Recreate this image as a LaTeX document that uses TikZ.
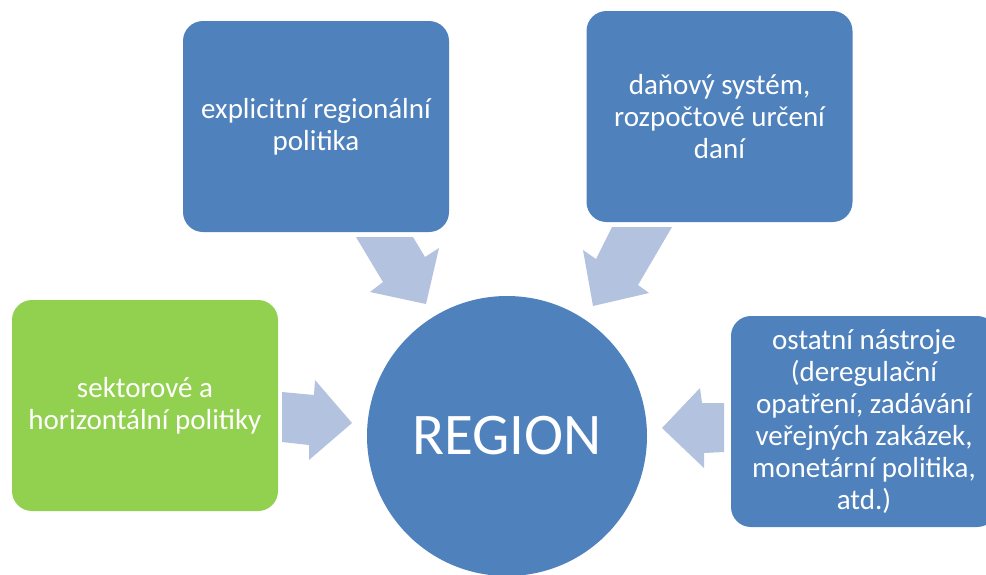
\documentclass[tikz,border=0pt]{standalone}
\usepackage{fontspec}
\setmainfont{Carlito}
\usepackage{tikz}
\usetikzlibrary{positioning}

\definecolor{boxblue}{RGB}{79,129,189}
\definecolor{boxgreen}{RGB}{146,208,80}
\definecolor{arrowfill}{RGB}{179,194,222}

\begin{document}
\begin{tikzpicture}[
  x=1pt, y=-1pt,
  every node/.style={font=\fontsize{29}{32}\selectfont},
  toolbox/.style={rounded corners=20pt, fill=boxblue, text=white, minimum width=266pt, minimum height=211pt, inner sep=0pt, align=center},
  hub/.style={circle, fill=boxblue, text=white, minimum size=280pt, inner sep=0pt, font=\fontsize{59}{70}\selectfont},
  blockarrow/.style={fill=arrowfill, draw=none},
]
\useasboundingbox (0,0) rectangle (986,574);

% central circle and the four boxes around it
\node[hub] (region) at (507,436) {REGION};
\node[toolbox] (expl) at (316,126.5) {explicitní regionální\\politika};
\node[toolbox] (dane) at (719.5,116.5) {daňový systém,\\rozpočtové určení\\daní};
\node[toolbox, fill=boxgreen] (sekt) at (145,405.5) {sektorové a\\horizontální politiky};
\node[toolbox] (ostatni) at (864,421.5) {ostatní nástroje\\(deregulační\\opatření, zadávání\\veřejných zakázek,\\monetární politika,\\atd.)};

% block arrows pointing at the circle
\fill[blockarrow] (356,237) -- (413,237) -- (425,257) -- (439,248) -- (426,304) -- (370,292) -- (383,282) -- cycle;
\fill[blockarrow] (612,227) -- (672,227) -- (638,285) -- (649,293) -- (593,306) -- (583,250) -- (596,259) -- cycle;
\fill[blockarrow] (282,392) -- (314,395) -- (315,380) -- (352,423) -- (309,460) -- (309,445) -- (282,442) -- cycle;
\fill[blockarrow] (724,403) -- (702,403) -- (700,388) -- (662,428) -- (704,468) -- (704,453) -- (724,452) -- cycle;

\end{tikzpicture}
\end{document}
